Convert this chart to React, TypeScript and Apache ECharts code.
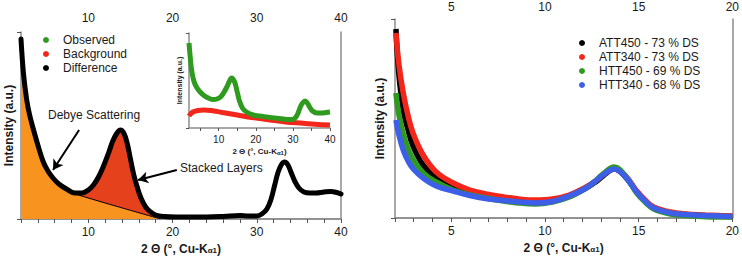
import React, { useEffect, useRef } from "react";
import * as echarts from "echarts";

// ---------- Left panel: difference pattern ----------
const diffX = [2.0, 2.3, 2.68, 3.0, 3.46, 4.0, 4.65, 5.2, 5.8, 6.5, 7.4, 8.4, 9.2, 10.0, 10.6, 11.2, 11.8, 12.4, 12.9, 13.4, 13.8, 14.2, 14.6, 15.0, 15.4, 15.8, 16.2, 16.8, 17.4, 18.0, 19.0, 20.4, 22, 24, 26, 28, 29, 30, 30.6, 31.2, 31.7, 32.1, 32.5, 32.9, 33.3, 33.7, 34.1, 34.5, 35.0, 35.6, 36.3, 37.0, 38.0, 38.8, 39.5, 40];
const diffY = [180, 145, 119, 105, 90, 74, 57, 48, 41, 35, 30, 26, 26, 29, 34, 42, 53, 66, 78, 86, 89, 86, 76, 60, 44, 32, 22, 12, 7, 4, 2.5, 2, 2, 2, 2.5, 3.5, 3, 3, 5, 10, 20, 33, 46, 54, 57, 54, 46, 38, 31, 27, 26, 26, 27, 27.5, 26.5, 25];
// straight Debye baseline under the stacked-layers peak
const debyeLine = [[8.8, 24], [18.6, 0]];
const stackedRange = [8.4, 18.6];

// inset
const insetObsX = [2, 2.3, 2.7, 3.3, 4, 5, 6.2, 7.5, 8.5, 9.5, 10.5, 11.3, 12.2, 12.8, 13.5, 14.3, 15.0, 15.6, 16.4, 17.5, 19.3, 21, 23, 25, 27.4, 29, 30.1, 30.8, 31.4, 32.0, 32.6, 33.3, 33.9, 34.5, 35.3, 36.5, 37.6, 39, 40];
const insetObsY = [85, 72, 58, 47, 41, 36, 32, 29.5, 28.5, 29, 31, 35, 41, 46, 50, 46, 36, 27, 20, 16, 13, 12, 11, 10, 9, 8.5, 8.7, 11, 15, 21, 25, 27, 25, 21, 17, 15, 15, 15.5, 16];
const insetBgX = [2, 3, 4.5, 6, 8, 11, 15, 19, 23.8, 28, 32.8, 36, 40];
const insetBgY = [12, 16, 17.5, 18, 17.5, 15.5, 13, 10.5, 8, 6, 4.7, 3.8, 3];

// ---------- Right panel ----------
const rightX = [2.05, 2.2, 2.44, 2.7, 2.98, 3.5, 4.2, 5.1, 6.0, 7.0, 7.8, 8.6, 9.5, 10.4, 11.3, 12.2, 12.7, 13.1, 13.7, 14.3, 14.9, 15.4, 15.8, 16.7, 17.5, 18.4, 19.2, 20];
const att450 = [189, 145, 108, 88, 71, 53, 40, 31, 25, 21, 19, 17.5, 16.5, 17.5, 22, 30, 36, 42, 49, 41, 26, 16, 10.5, 5, 3.5, 2.5, 2, 1.5];
const att340 = [185, 155, 125, 102, 84, 63, 46, 35, 28, 23.5, 21, 19, 18, 19, 23, 31, 37, 43, 49, 42, 27, 17, 11, 6, 4, 3, 2.5, 2];
const htt450 = [125, 104, 84, 69, 58, 45, 36, 28, 23, 19.5, 17, 15, 14, 16, 21, 30, 37, 44, 51, 42, 25, 15, 9, 4, 2.5, 1.5, 1, 1];
const htt340 = [98, 84, 68, 57, 49, 40, 32, 27, 22.5, 19, 17.5, 16, 15, 16.5, 22, 30, 37, 43, 49, 41, 26, 16, 10, 5, 3.5, 2.5, 2, 1.5];

const leftXTicks = { min: 2, max: 40, step: 2, labelEvery: 10 };
const rightXTicks = { min: 2, max: 20, step: 1, labelEvery: 5 };
const insetTickValues = [5, 10, 15, 20, 25, 30, 35, 40];
const insetLabelValues = [10, 20, 30, 40];

const FONT = "'Liberation Sans', Arial, Helvetica, sans-serif";
const AXIS_COLOR = "#8c8c8c";
const TEXT_COLOR = "#1a1a1a";
const C_GREEN = "#2e9b1e";
const C_RED = "#f2261a";
const C_BLUE = "#3d5ee6";
const C_ORANGE = "#f7931e";
const C_STACK = "#e5411d";

const zip = (xs: number[], ys: number[]) => xs.map((x, i) => [x, ys[i]]);

const xName = (size: number, sub: number) => ({
  name: "{a|2 Θ (°, Cu-K}{b|α1}{a|)}",
  nameLocation: "middle" as const,
  nameTextStyle: {
    rich: {
      a: { fontFamily: FONT, fontWeight: "bold", fontSize: size, color: TEXT_COLOR },
      b: { fontFamily: FONT, fontWeight: "bold", fontSize: sub, color: TEXT_COLOR, padding: [Math.round(size * 0.35), 0, 0, 0] },
    },
  },
});

export default function App() {
  const ref = useRef<HTMLDivElement>(null);
  useEffect(() => {
    if (!ref.current) return;
    const chart = echarts.init(ref.current, null, { renderer: "svg" });

    const diff = zip(diffX, diffY);
    const stacked = diff.filter((p) => p[0] >= stackedRange[0] && p[0] <= stackedRange[1]);
    const debye = [...diff.filter((p) => p[0] < debyeLine[0][0]), ...debyeLine];

    const bottomAxis = (grid: number, t: typeof leftXTicks) => ({
      type: "value",
      gridIndex: grid,
      min: t.min,
      max: t.max,
      interval: t.step,
      position: "bottom",
      splitLine: { show: false },
      axisLine: { show: true, lineStyle: { color: AXIS_COLOR, width: 1.5 } },
      axisTick: { show: true, length: 4, lineStyle: { color: "#555" } },
      axisLabel: {
        margin: 7,
        fontFamily: FONT,
        fontSize: 12,
        color: TEXT_COLOR,
        formatter: (v: number) => (v % t.labelEvery === 0 ? String(v) : ""),
      },
      ...xName(12, 8),
      nameGap: 23,
    });
    const topAxis = (grid: number, t: typeof leftXTicks, margin: number) => ({
      type: "value",
      gridIndex: grid,
      min: t.min,
      max: t.max,
      interval: t.step,
      position: "top",
      splitLine: { show: false },
      axisLine: { show: true, lineStyle: { color: AXIS_COLOR, width: 1.5 } },
      axisTick: { show: true, inside: true, length: 3, lineStyle: { color: "#555" } },
      axisLabel: {
        margin,
        fontFamily: FONT,
        fontSize: 12,
        color: TEXT_COLOR,
        formatter: (v: number) => (v % t.labelEvery === 0 ? String(v) : ""),
      },
    });
    const leftY = (grid: number, max: number, gap: number) => ({
      type: "value",
      gridIndex: grid,
      min: 0,
      max,
      interval: max,
      position: "left",
      splitLine: { show: false },
      axisLine: { show: true, lineStyle: { color: AXIS_COLOR, width: 1.5 } },
      axisTick: { show: true, length: 4, lineStyle: { color: "#555" } },
      axisLabel: { show: false },
      name: "Intensity (a.u.)",
      nameLocation: "middle",
      nameGap: gap,
      nameTextStyle: { fontFamily: FONT, fontWeight: "bold", fontSize: 12, color: TEXT_COLOR },
    });
    const rightY = (grid: number, max: number) => ({
      type: "value",
      gridIndex: grid,
      min: 0,
      max,
      position: "right",
      splitLine: { show: false },
      axisLine: { show: true, lineStyle: { color: AXIS_COLOR, width: 1.5 } },
      axisTick: { show: false },
      axisLabel: { show: false },
    });

    const option: any = {
      animation: false,
      backgroundColor: "#ffffff",
      grid: [
        { left: 21, top: 32, width: 320, height: 187 },
        { left: 189, top: 33, width: 141, height: 95 },
        { left: 395, top: 19, width: 338, height: 199 },
      ],
      xAxis: [
        bottomAxis(0, leftXTicks),
        topAxis(0, leftXTicks, 8),
        {
          type: "value",
          gridIndex: 1,
          min: 2,
          max: 40,
          position: "bottom",
          splitLine: { show: false },
          axisLine: { show: true, lineStyle: { color: AXIS_COLOR, width: 1.5 } },
          axisTick: { show: true, length: 3, customValues: insetTickValues, lineStyle: { color: "#555" } },
          axisLabel: { margin: 6, fontFamily: FONT, fontSize: 10, color: TEXT_COLOR, customValues: insetLabelValues },
          ...xName(8, 6),
          nameGap: 19,
        },
        bottomAxis(2, rightXTicks),
        topAxis(2, rightXTicks, 6),
      ],
      yAxis: [
        leftY(0, 187, 6),
        rightY(0, 187),
        {
          type: "value",
          gridIndex: 1,
          min: 0,
          max: 95,
          interval: 95,
          position: "left",
          splitLine: { show: false },
          axisLine: { show: true, lineStyle: { color: AXIS_COLOR, width: 1.5 } },
          axisTick: { show: true, length: 3, lineStyle: { color: "#555" } },
          axisLabel: { show: false },
          name: "Intensity (a.u.)",
          nameLocation: "middle",
          nameGap: 6,
          nameTextStyle: { fontFamily: FONT, fontWeight: "bold", fontSize: 7, color: TEXT_COLOR },
        },
        leftY(2, 199, 9),
        rightY(2, 199),
      ],
      legend: [
        {
          orient: "vertical",
          left: 43,
          top: 34,
          padding: 0,
          itemGap: 2,
          itemWidth: 6,
          itemHeight: 6,
          icon: "circle",
          data: ["Observed", "Background", "Difference"],
          textStyle: { fontFamily: FONT, fontSize: 12, color: TEXT_COLOR, lineHeight: 12, padding: [0, 0, 0, 9] },
        },
        {
          orient: "vertical",
          left: 579,
          top: 37,
          padding: 0,
          itemGap: 2,
          itemWidth: 6,
          itemHeight: 6,
          icon: "circle",
          data: ["ATT450 - 73 % DS", "ATT340 - 73 % DS", "HTT450 - 69 % DS", "HTT340 - 68 % DS"],
          textStyle: { fontFamily: FONT, fontSize: 12, color: TEXT_COLOR, lineHeight: 12, padding: [0, 0, 0, 9] },
        },
      ],
      graphic: [
        { type: "text", left: 48, top: 109, style: { text: "Debye Scattering", font: `12px ${FONT}`, fill: TEXT_COLOR } },
        { type: "text", left: 180, top: 162, style: { text: "Stacked Layers", font: `12px ${FONT}`, fill: TEXT_COLOR } },
      ],
      series: [
        {
          name: "Stacked",
          type: "line",
          xAxisIndex: 0,
          yAxisIndex: 0,
          data: stacked,
          smooth: 0.4,
          symbol: "none",
          lineStyle: { width: 0 },
          areaStyle: { color: C_STACK, opacity: 1 },
          z: 1,
        },
        {
          name: "Debye",
          type: "line",
          xAxisIndex: 0,
          yAxisIndex: 0,
          data: debye,
          smooth: 0.4,
          symbol: "none",
          lineStyle: { width: 1, color: "#000" },
          areaStyle: { color: C_ORANGE, opacity: 1 },
          z: 2,
        },
        {
          name: "Difference",
          type: "line",
          xAxisIndex: 0,
          yAxisIndex: 0,
          data: diff,
          smooth: 0.4,
          symbol: "none",
          color: "#000",
          lineStyle: { width: 5, color: "#000", cap: "round", join: "round" },
          z: 3,
          markLine: {
            silent: true,
            symbol: ["none", "arrow"],
            symbolSize: [9, 10],
            label: { show: false },
            lineStyle: { color: "#000", width: 2, type: "solid" },
            data: [
              [{ coord: [8.9, 89] }, { coord: [5.8, 49] }],
              [{ coord: [20.5, 49] }, { coord: [15.9, 39] }],
            ],
          },
        },
        {
          name: "Background",
          type: "line",
          xAxisIndex: 2,
          yAxisIndex: 2,
          data: zip(insetBgX, insetBgY),
          smooth: 0.4,
          symbol: "none",
          color: C_RED,
          lineStyle: { width: 5, color: C_RED },
          z: 4,
        },
        {
          name: "Observed",
          type: "line",
          xAxisIndex: 2,
          yAxisIndex: 2,
          data: zip(insetObsX, insetObsY),
          smooth: 0.4,
          symbol: "none",
          color: C_GREEN,
          lineStyle: { width: 5, color: C_GREEN },
          z: 5,
        },
        ...[
          { n: "ATT450 - 73 % DS", d: att450, c: "#000000" },
          { n: "ATT340 - 73 % DS", d: att340, c: C_RED },
          { n: "HTT450 - 69 % DS", d: htt450, c: C_GREEN },
          { n: "HTT340 - 68 % DS", d: htt340, c: C_BLUE },
        ].map((s, i) => ({
          name: s.n,
          type: "line",
          xAxisIndex: 3,
          yAxisIndex: 3,
          data: zip(rightX, s.d),
          smooth: 0.4,
          symbol: "none",
          color: s.c,
          lineStyle: { width: 5.5, color: s.c },
          z: 2 + i,
        })),
      ],
    };
    chart.setOption(option);
    return () => chart.dispose();
  }, []);
  return (
    <div
      ref={ref}
      style={{ position: "fixed", left: 0, top: 0, width: 742, height: 262, background: "#fff" }}
    />
  );
}
